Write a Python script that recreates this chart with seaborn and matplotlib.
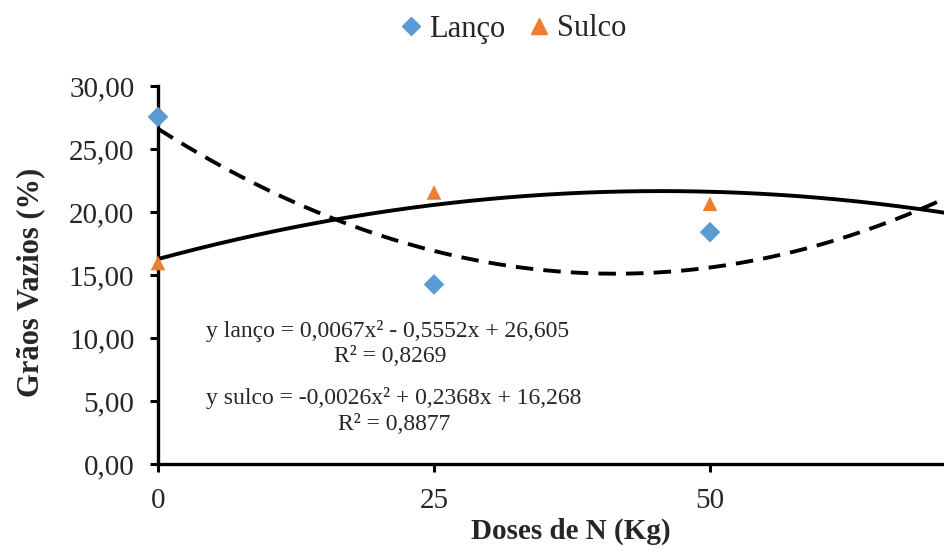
import numpy as np
import pandas as pd
import matplotlib
matplotlib.use("Agg")
import matplotlib.pyplot as plt
import seaborn as sns
from matplotlib.lines import Line2D

# data
doses = [0, 25, 50]
lanco = [27.55, 14.25, 18.40]
sulco = [15.95, 21.55, 20.65]
series_names = ["Lanço", "Sulco"]
colors = ["#5B9BD5", "#ED7D31"]
coef_lanco = [0.0067, -0.5552, 26.605]
coef_sulco = [-0.0026, 0.2368, 16.268]
eq_lanco = ["y lanço = 0,0067x² - 0,5552x + 26,605", "R² = 0,8269"]
eq_sulco = ["y sulco = -0,0026x² + 0,2368x + 16,268", "R² = 0,8877"]
yticks = [0, 5, 10, 15, 20, 25, 30]
ytick_labels = ["0,00", "5,00", "10,00", "15,00", "20,00", "25,00", "30,00"]
xticks = [0, 25, 50]
xtick_labels = ["0", "25", "50"]

sns.set_theme(style="white")
plt.rcParams["font.family"] = ["Liberation Serif", "DejaVu Serif"]

W, H = 944, 551
fig = plt.figure(figsize=(W / 100, H / 100), dpi=100)
ax = fig.add_axes([158 / W, 1 - 464 / H, 1 - 158 / W, (464 - 86) / H])

df = pd.DataFrame({
    "dose": doses * 2,
    "valor": lanco + sulco,
    "serie": [series_names[0]] * 3 + [series_names[1]] * 3,
})

xs = np.linspace(0, 75, 300)
yl = np.polyval(coef_lanco, xs)
ys = np.polyval(coef_sulco, xs)
sns.lineplot(x=xs, y=yl, ax=ax, color="black", lw=2.8, linestyle=(0, (4.5, 2.6)), zorder=2)
sns.lineplot(x=xs, y=ys, ax=ax, color="black", lw=2.8, zorder=2)

sns.scatterplot(data=df, x="dose", y="valor", hue="serie", style="serie",
                palette=colors, markers={"Lanço": "D", "Sulco": "^"},
                s=110, edgecolor="none", ax=ax, legend=False, zorder=3, clip_on=False)

ax.set_xlim(0, (W - 158) / ((710 - 158) / 50))
ax.set_ylim(0, 30)
ax.set_yticks(yticks)
ax.set_yticklabels(ytick_labels)
ax.set_xticks(xticks)
ax.set_xticklabels(xtick_labels)
ax.tick_params(axis="both", labelsize=21, direction="out", length=6, width=2.2, color="black",
               left=True, bottom=True)
ax.tick_params(axis="y", pad=11)
ax.tick_params(axis="x", pad=11)
for s in ["top", "right"]:
    ax.spines[s].set_visible(False)
for s in ["left", "bottom"]:
    ax.spines[s].set_color("black")
    ax.spines[s].set_linewidth(2.4)
ax.set_ylabel("Grãos Vazios (%)", fontsize=22, fontweight="bold")
ax.yaxis.set_label_coords((45 - 158) / 786, (464 - 282) / 378)
ax.set_xlabel("Doses de N (Kg)", fontsize=21, fontweight="bold")
ax.xaxis.set_label_coords((571 - 158) / 786, (464 - 518) / 378)

for (px, py), txt in zip([(388, 331), (390, 357), (394, 398), (394, 424)],
                         eq_lanco + eq_sulco):
    fig.text(px / W, 1 - py / H, txt, fontsize=17, ha="center", va="center")

handles = [Line2D([], [], marker="D", color=colors[0], ls="none", markersize=9),
           Line2D([], [], marker="^", color=colors[1], ls="none", markersize=11)]
fig.legend(handles, series_names, loc="center", bbox_to_anchor=(512.5 / W, 1 - 29 / H),
           ncol=2, frameon=False, fontsize=22, handletextpad=0.2, columnspacing=0.7,
           handlelength=0.8, borderpad=0)

fig.savefig("out.png", dpi=100)
